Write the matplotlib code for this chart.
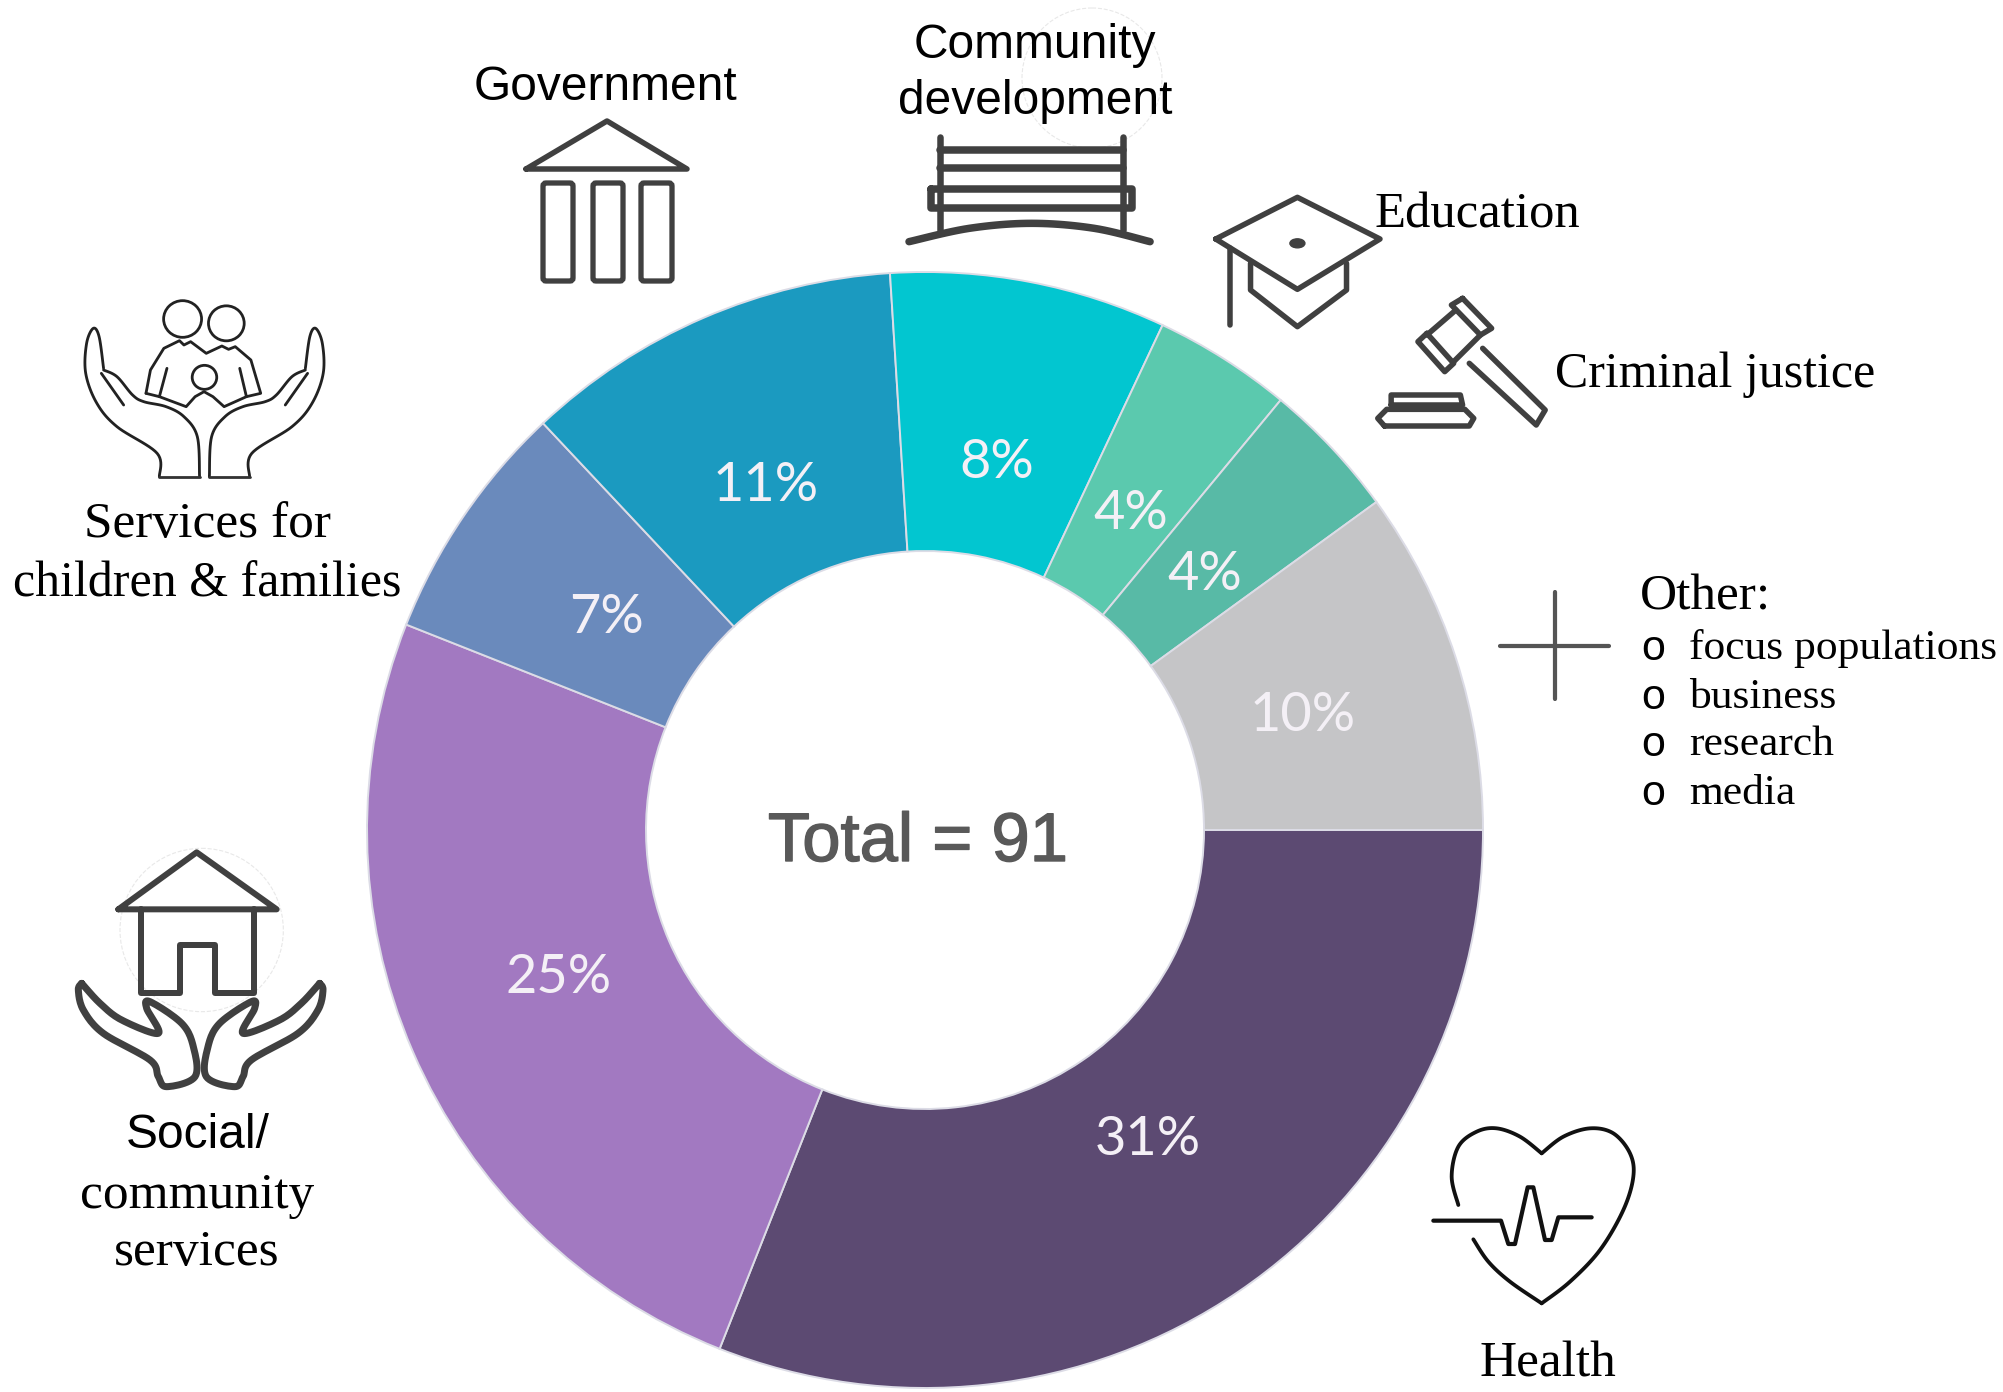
import numpy as np
import matplotlib
matplotlib.use("Agg")
import matplotlib.pyplot as plt
import matplotlib.patheffects as pe
from matplotlib.patches import Ellipse, Circle, FancyBboxPatch

W, H = 2003, 1392

# slices, clockwise from 3 o'clock
shares = [31, 25, 7, 11, 8, 4, 4, 10]
colors = ['#5c4a72', '#a279c1', '#6a8abc', '#1b9ac0', '#02c6d0', '#5bc9ae', '#58baa6', '#c5c5c7']
other_items = ['focus populations', 'business', 'research', 'media']

DARK = '#404040'
SANS = 'Liberation Sans'
SERIF = 'Liberation Serif'

fig = plt.figure(figsize=(W / 100, H / 100), dpi=100, facecolor='white')

# donut
cx, cy, R = 925, 830, 558
ax = fig.add_axes([(cx - R) / W, 1 - (cy + R) / H, 2 * R / W, 2 * R / H])
wedges, texts, autotexts = ax.pie(
    shares, colors=colors, startangle=0, counterclock=False, radius=1,
    wedgeprops=dict(width=0.5, edgecolor='#dcdce6', linewidth=1.4),
    autopct=lambda p: '%d%%' % round(p), pctdistance=0.69,
    textprops=dict(color='#f4f0f6', fontsize=39, family='Lato'))
ax.set_xlim(-1, 1)
ax.set_ylim(-1, 1)
ax.set_aspect('equal')

# the labels in the picture sit a little off the slice centres (px)
label_nudge = [(6, 9), (-13, 5), (0, -4), (-6, -9), (0, -11), (-1, -9), (-1, -8), (11, -4)]
for t, (dx, dy) in zip(autotexts, label_nudge):
    x, y = t.get_position()
    t.set_position((x + dx / R, y + dy / R))

# overlay in pixel coordinates for icons and labels
ov = fig.add_axes([0, 0, 1, 1])
ov.set_xlim(0, W)
ov.set_ylim(H, 0)
ov.axis('off')
ov.patch.set_alpha(0)


def smooth(pts, n=12):
    # catmull-rom through the hand-read outline points
    p = np.array(pts, float)
    p = np.vstack([p[0], p, p[-1]])
    out = []
    for i in range(1, len(p) - 2):
        for t in np.linspace(0, 1, n, endpoint=False):
            a = 2 * p[i] + (p[i + 1] - p[i - 1]) * t
            b = (2 * p[i - 1] - 5 * p[i] + 4 * p[i + 1] - p[i + 2]) * t ** 2
            c = (-p[i - 1] + 3 * p[i] - 3 * p[i + 1] + p[i + 2]) * t ** 3
            out.append(0.5 * (a + b + c))
    out.append(p[-2])
    return np.array(out)


def line(pts, org, lw=5, color=DARK, curve=False, k=(3.0, 3.0)):
    # pts are in zoomed crop coords, k is the crop's x and y zoom, org its origin
    q = smooth(pts) if curve else np.array(pts, float)
    ov.plot(org[0] + q[:, 0] / k[0], org[1] + q[:, 1] / k[1], color=color, lw=lw * 0.72,
            solid_capstyle='round', solid_joinstyle='round')


Z = (2.24, 3.0)  # the two wide crops came back squeezed in x

# family in hands
o1 = (50, 270)
INK = '#222222'
hand = [(245, 620), (240, 550), (150, 470), (105, 400), (80, 310), (82, 220), (97, 175), (110, 200), (120, 295)]
palm = [(120, 300), (150, 320), (185, 375), (210, 395), (260, 410), (300, 440), (330, 500), (335, 620)]
for mir in (False, True):
    f = (lambda s: [(692 - x, y) for x, y in s]) if mir else (lambda s: s)
    line(f(hand), o1, 2.8, INK, True, Z)
    line(f(palm), o1, 2.8, INK, True, Z)
    line(f([(245, 620), (335, 620)]), o1, 2.8, '#333333', k=Z)
    line(f([(115, 310), (165, 405)]), o1, 2.8, INK, k=Z)
for x, y, w, h in [(297, 147, 85, 110), (395, 160, 80, 105), (346, 322, 55, 72)]:
    ov.add_patch(Ellipse((o1[0] + x / Z[0], o1[1] + y / Z[1]), w / Z[0], h / Z[1], fill=False, ec=INK, lw=2.0))
line([(215, 370), (225, 300), (255, 235), (290, 212), (300, 225), (315, 215), (350, 250), (385, 228),
      (400, 238), (415, 230), (450, 270), (472, 370), (440, 380), (425, 295)], o1, 2.8, INK, k=Z)
line([(215, 370), (245, 380), (262, 295)], o1, 2.8, INK, k=Z)
line([(245, 380), (305, 410), (325, 380), (345, 365), (365, 380), (390, 410), (440, 380)], o1, 2.8, INK, k=Z)

# government
line([(526, 169), (607, 121), (687, 169), (526, 169)], (0, 0), 5.5, k=(1, 1))
for x0, x1 in [(543, 573), (593, 623), (641, 672)]:
    ov.add_patch(FancyBboxPatch((x0 + 3, 186), x1 - x0 - 6, 92, boxstyle='round,pad=3', fill=False, ec=DARK, lw=3.8))

# bench
o2 = (880, 0)
ov.add_patch(Circle((1092, 78), 70, fill=False, ec='#e8e8e8', lw=0.8, ls='--'))
line([(135, 412), (135, 690)], o2, 6.5, k=Z)
line([(545, 412), (545, 690)], o2, 6.5, k=Z)
line([(135, 450), (545, 450)], o2, 7.5, k=Z)
line([(135, 503), (545, 503)], o2, 7.5, k=Z)
line([(115, 567), (565, 567), (565, 625), (115, 625), (115, 567)], o2, 7.5, k=Z)
line([(65, 725), (200, 685), (340, 670), (480, 685), (605, 725)], o2, 7.5, curve=True, k=Z)

# graduation cap
line([(752, 717), (935, 592), (1120, 717), (935, 868), (752, 717)], o2, 5.5, k=Z)
ov.add_patch(Ellipse((880 + 935 / Z[0], 730 / Z[1]), 15, 9, color=DARK))
line([(783, 745), (783, 975)], o2, 5.5, k=Z)
line([(830, 790), (830, 870), (935, 980), (1045, 870), (1045, 790)], o2, 5.5, k=Z)

# gavel
line([(1305, 895), (1370, 985), (1345, 1005), (1280, 915), (1305, 895)], o2, 5.5, k=Z)
line([(1225, 1000), (1285, 1090), (1265, 1115), (1205, 1025), (1225, 1000)], o2, 5.5, k=Z)
line([(1290, 930), (1225, 1005)], o2, 5.5, k=Z)
line([(1345, 1005), (1285, 1085)], o2, 5.5, k=Z)
line([(1350, 1045), (1490, 1230), (1470, 1275), (1320, 1090)], o2, 5.5, k=Z)
line([(1145, 1215), (1145, 1185), (1300, 1185), (1305, 1215), (1145, 1215)], o2, 5.5, k=Z)
line([(1130, 1278), (1115, 1255), (1135, 1228), (1310, 1228), (1330, 1255), (1320, 1278), (1130, 1278)], o2, 5.5, k=Z)

# house in hands
o3 = (50, 820)
ov.add_patch(Circle((50 + 455 / 3, 820 + 330 / 3), 245 / 3, fill=False, ec='#e8e8e8', lw=0.8, ls='--'))
line([(205, 268), (440, 97), (680, 268), (205, 268)], o3, 6)
line([(272, 268), (272, 520), (390, 520), (390, 375), (495, 375), (495, 520), (612, 520), (612, 268)], o3, 6)
shand = [(95, 490), (150, 550), (215, 600), (325, 640), (290, 565), (300, 545), (395, 610), (430, 680),
         (435, 770), (350, 800), (325, 770), (300, 720), (160, 640), (100, 570), (85, 510), (95, 490)]
line(shand, o3, 7, curve=True)
line([(904 - x, y) for x, y in shand], o3, 7, curve=True)

# heart
o4 = (1400, 1100)
line([(175, 315), (155, 230), (175, 140), (230, 95), (290, 85), (360, 110), (425, 160)], o4, 3.8, '#111111', True)
line([(425, 160), (490, 110), (570, 85), (640, 100), (690, 160), (700, 230), (670, 330), (600, 450),
      (510, 545), (425, 610)], o4, 3.8, '#111111', True)
line([(425, 610), (330, 545), (265, 485), (220, 418)], o4, 3.8, '#111111', True)
line([(100, 362), (303, 362), (325, 432), (345, 432), (383, 262), (400, 262), (435, 420), (455, 420),
      (475, 352), (575, 352)], o4, 4.2, '#111111')

# plus sign
o5 = (1480, 560)
line([(60, 258), (388, 258)], o5, 4.2, '#555555')
line([(225, 95), (225, 418)], o5, 4.2, '#555555')

# labels
total = ov.text(918, 843, 'Total = 91', family=SANS, fontsize=49.5, color='#595959', ha='center', va='center')
total.set_path_effects([pe.withStroke(linewidth=1.0, foreground='#595959')])
ov.text(605, 88, 'Government', family=SANS, fontsize=34.5, color='black', ha='center', va='center')
ov.text(1035, 46, 'Community', family=SANS, fontsize=34.5, color='black', ha='center', va='center')
ov.text(1035, 102, 'development', family=SANS, fontsize=34.5, color='black', ha='center', va='center')
ov.text(198, 1136, 'Social/', family=SANS, fontsize=34.5, color='black', ha='center', va='center')

ov.text(1375, 215, 'Education', family=SERIF, fontsize=36.5, color='black', ha='left', va='center')
ov.text(1555, 375, 'Criminal justice', family=SERIF, fontsize=36, color='black', ha='left', va='center')
ov.text(207, 525, 'Services for', family=SERIF, fontsize=37, color='black', ha='center', va='center')
ov.text(207, 584, 'children & families', family=SERIF, fontsize=36, color='black', ha='center', va='center')
ov.text(197, 1196, 'community', family=SERIF, fontsize=37, color='black', ha='center', va='center')
ov.text(197, 1253, 'services', family=SERIF, fontsize=37, color='black', ha='center', va='center')
ov.text(1548, 1364, 'Health', family=SERIF, fontsize=37, color='black', ha='center', va='center')

ov.text(1640, 597, 'Other:', family=SERIF, fontsize=37, color='black', ha='left', va='center')
for item, y in zip(other_items, [649, 698, 745, 794]):
    ov.text(1653, y, 'o', family='Liberation Mono', fontsize=31, color='black', ha='center', va='center')
    ov.text(1689, y, item, family=SERIF, fontsize=31.3, color='black', ha='left', va='center')

fig.savefig('out.png', dpi=100, facecolor='white')
